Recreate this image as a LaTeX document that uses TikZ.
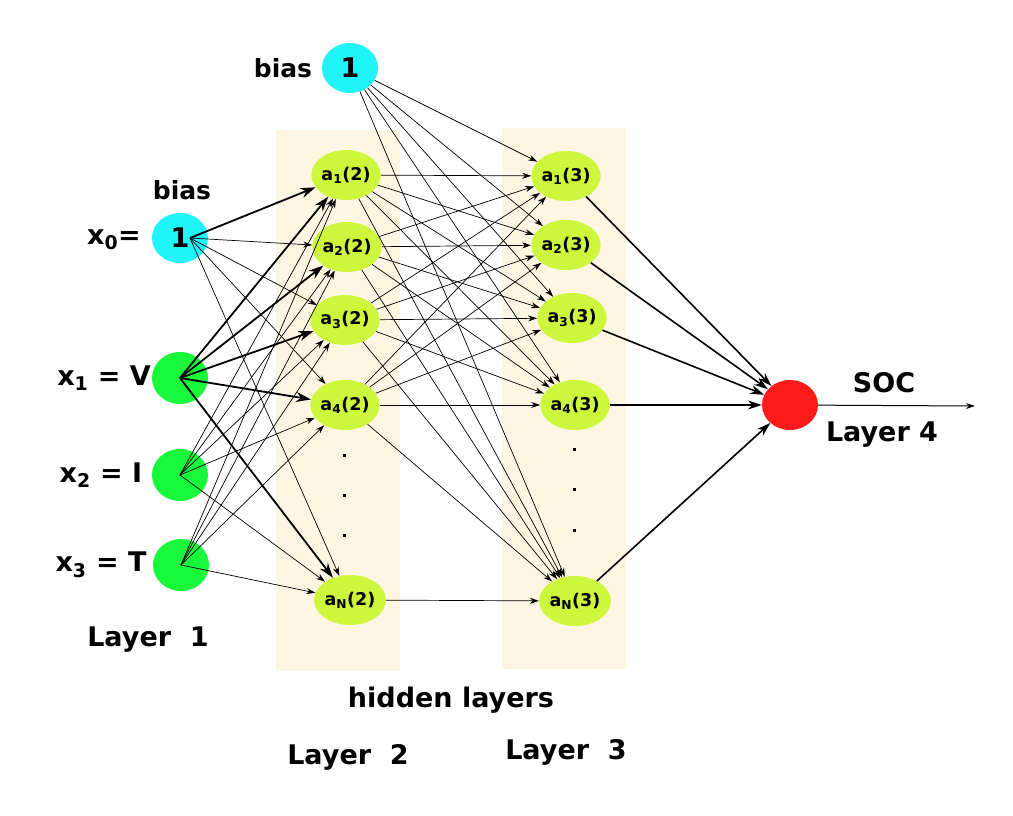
\documentclass[tikz,border=0pt]{standalone}
\usepackage{fontspec}
\setmainfont{DejaVu Sans}
\usetikzlibrary{arrows.meta,shapes.geometric}
\definecolor{biascol}{HTML}{1FF5F8}
\definecolor{incol}{HTML}{19F93C}
\definecolor{hidcol}{HTML}{CCF73C}
\definecolor{outcol}{HTML}{FF1A1A}
\definecolor{cream}{HTML}{FEF6E2}
\begin{document}
\begin{tikzpicture}[x=1pt,y=-1pt,
  neuron/.style={ellipse,minimum width=56pt,minimum height=50pt,inner sep=0pt},
  hid/.style={neuron,fill=hidcol,font=\fontsize{17.5}{20}\selectfont\bfseries},
  inp/.style={neuron,fill=incol,minimum height=52pt},
  biasnode/.style={neuron,fill=biascol,font=\fontsize{27}{30}\selectfont\bfseries},
  lab/.style={font=\fontsize{27}{32}\selectfont\bfseries,inner sep=0pt},
  thinedge/.style={line width=0.7pt,-{Stealth[length=9pt,width=6pt]}},
  thickedge/.style={line width=1.8pt,-{Stealth[length=15pt,width=10pt]}},
  outedge/.style={line width=1.6pt,-{Stealth[length=14pt,width=9pt]}},
  dotmark/.style={fill=black,minimum size=3pt,inner sep=0pt}]
\useasboundingbox (0,0) rectangle (1013,816);
% hidden layer backgrounds
\fill[cream] (276,130) rectangle (400,671);
\fill[cream] (502,128) rectangle (626,669);
% nodes
\node[biasnode] (b3) at (350,68) {1};
\node[lab,font=\fontsize{25}{30}\selectfont\bfseries] (lb3) at (283,68) {bias};
\node[biasnode] (x0) at (180,238) {1};
\node[lab,font=\fontsize{25}{30}\selectfont\bfseries] (lb2) at (182,190) {bias};
\node[lab] (lx0) at (114,240) {x\textsubscript{0}=};
\node[inp] (x1) at (180,378) {};
\node[inp] (x2) at (180,475) {};
\node[inp] (x3) at (181,565) {};
\node[lab] (lx1) at (104,378) {x\textsubscript{1} = V};
\node[lab] (lx2) at (101,475) {x\textsubscript{2} = I};
\node[lab] (lx3) at (101,565) {x\textsubscript{3} = T};
\node[lab] (L1) at (148,640) {Layer\ \ 1};
\node[hid] (h21) at (346,175) {a\textsubscript{1}(2)};
\node[hid] (h22) at (347,247) {a\textsubscript{2}(2)};
\node[hid] (h23) at (345,320) {a\textsubscript{3}(2)};
\node[hid] (h24) at (345,405) {a\textsubscript{4}(2)};
\node[hid] (h2N) at (350,600) {a\textsubscript{N}(2)};
\node[hid] (h31) at (566,176) {a\textsubscript{1}(3)};
\node[hid] (h32) at (566,245) {a\textsubscript{2}(3)};
\node[hid] (h33) at (572,318) {a\textsubscript{3}(3)};
\node[hid] (h34) at (575,405) {a\textsubscript{4}(3)};
\node[hid] (h3N) at (575,601) {a\textsubscript{N}(3)};
\node[dotmark] (d21) at (344,455) {};
\node[dotmark] (d22) at (344,495) {};
\node[dotmark] (d23) at (344,535) {};
\node[dotmark] (d31) at (574,449) {};
\node[dotmark] (d32) at (574,489) {};
\node[dotmark] (d33) at (574,530) {};
\node[neuron,fill=outcol] (out) at (790,405) {};
\coordinate (socend) at (975,406);
\node[lab] (soc) at (884,383) {SOC};
\node[lab] (L4) at (882,435) {Layer 4};
\node[lab] (hl) at (451,700) {hidden layers};
\node[lab] (L2) at (348,757) {Layer\ \ 2};
\node[lab] (L3) at (566,752) {Layer\ \ 3};
% edges input -> layer 2
\draw[thickedge] ([xshift=10pt]x0.center) -- (h21);
\foreach \t in {h22,h23,h24,h2N} \draw[thinedge] ([xshift=10pt]x0.center) -- (\t);
\foreach \t in {h21,h22,h23,h24,h2N} \draw[thickedge] (x1.center) -- (\t);
\foreach \t in {h21,h22,h23,h24,h2N} \draw[thinedge] (x2.center) -- (\t);
\foreach \t in {h21,h22,h23,h24,h2N} \draw[thinedge] (x3.center) -- (\t);
% bias -> layer 3
\foreach \t in {h31,h32,h33,h34,h3N} \draw[thinedge] (b3) -- (\t);
% layer 2 -> layer 3
\foreach \s in {h21,h22,h23,h24}
  \foreach \t in {h31,h32,h33,h34,h3N}
    \draw[thinedge] (\s) -- (\t);
\draw[thinedge] (h2N) -- (h3N);
% layer 3 -> output
\foreach \s in {h31,h32,h33,h34,h3N} \draw[outedge] (\s) -- (out);
\draw[thinedge,line width=1pt] (out) -- (socend);
\end{tikzpicture}
\end{document}
